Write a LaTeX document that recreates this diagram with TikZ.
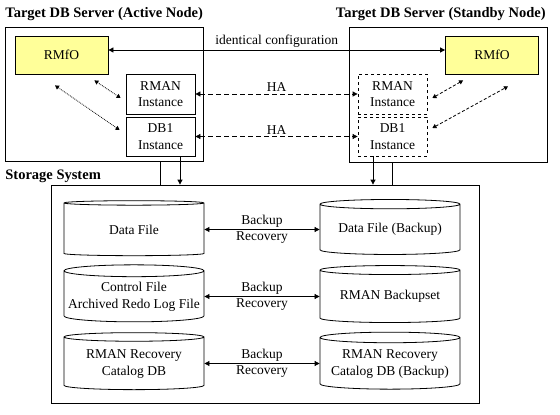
\documentclass[tikz,border=0pt]{standalone}
\usepackage{fontspec}
\setmainfont{Liberation Serif}
\usetikzlibrary{shapes.geometric,arrows.meta}

\definecolor{rmfoyellow}{HTML}{FFFF99}

\tikzset{
  box/.style={draw,line width=0.8pt,inner sep=0pt},
  inst/.style={box,minimum width=69pt,minimum height=39pt,align=center,font=\fontsize{13.5}{16.5}\selectfont},
  rmfo/.style={box,fill=rmfoyellow,minimum width=93pt,minimum height=38pt,font=\fontsize{13.5}{16}\selectfont},
  disk/.style={cylinder,shape border rotate=90,draw,line width=0.8pt,aspect=0.09,
    minimum width=140pt,minimum height=55pt,inner sep=0pt,align=center,font=\fontsize{13.5}{17}\selectfont},
  title/.style={font=\bfseries\fontsize{14.5}{16}\selectfont,inner sep=0pt},
  lbl/.style={font=\fontsize{13.5}{16}\selectfont,inner sep=2pt},
  ha/.style={dash pattern=on 5pt off 3pt},
  tip/.style={-{Triangle[length=5pt,width=5pt]}},
  both/.style={{Triangle[length=5pt,width=5pt]}-{Triangle[length=5pt,width=5pt]}},
  small both/.style={{Triangle[length=4pt,width=4.5pt]}-{Triangle[length=4pt,width=4.5pt]}}
}

\begin{document}
\begin{tikzpicture}[x=1pt,y=-1pt,line width=0.8pt]
  \useasboundingbox (0,0) rectangle (560,415);

  % servers
  \node[box,minimum width=198pt,minimum height=134pt] (srvA) at (104,94) {};
  \node[box,minimum width=198pt,minimum height=135pt] (srvS) at (448,94.5) {};
  \node[title,anchor=south west] (ttlA) at (5,21) {Target DB Server (Active Node)};
  \node[title,anchor=south east] (ttlS) at (546,21) {Target DB Server (Standby Node)};

  \node[rmfo] (rmA) at (61.5,55) {RMfO};
  \node[rmfo] (rmS) at (492,55) {RMfO};
  \node[inst,minimum height=40pt] (rmnA) at (160.5,94) {RMAN\\Instance};
  \node[inst] (dbA) at (160.5,136.5) {DB1\\Instance};
  \node[inst,minimum height=40pt,dashed] (rmnS) at (392.5,94) {RMAN\\Instance};
  \node[inst,dashed] (dbS) at (392.5,136.5) {DB1\\Instance};

  % storage
  \node[box,minimum width=428pt,minimum height=218pt] (stor) at (265,294) {};
  \node[title,anchor=south west] (ttlD) at (5,183) {Storage System};

  \node[disk] (dfA) at (134,229.5) {Data File};
  \node[disk] (dfB) at (390,229.5) {Data File (Backup)};
  \node[disk,minimum height=57pt] (cfA) at (134,296.5) {Control File\\Archived Redo Log File};
  \node[disk,minimum height=57pt] (cfB) at (390,296.5) {RMAN Backupset};
  \node[disk,minimum height=57pt] (rcA) at (134,363.5) {RMAN Recovery\\Catalog DB};
  \node[disk,minimum height=57pt] (rcB) at (390,363.5) {RMAN Recovery\\Catalog DB (Backup)};

  % connectors
  \draw[both] ([yshift=5pt]rmA.east) -- node[lbl,above] {identical configuration} ([yshift=5pt]rmS.west);
  \draw[both,ha] (rmnA.east) -- node[lbl,above] {HA} (rmnS.west);
  \draw[both,ha] (dbA.east) -- node[lbl,above] {HA} (dbS.west);

  \draw[small both,densely dotted] ([xshift=-14pt,yshift=-6pt]rmA.south east) -- ([xshift=-5pt,yshift=-4pt]rmnA.west);
  \draw[small both,densely dotted] ([xshift=-6.5pt,yshift=-11pt]rmA.south) -- ([xshift=-6pt,yshift=6.5pt]dbA.west);
  \draw[small both,densely dashed] ([xshift=5pt,yshift=-4pt]rmnS.east) -- ([xshift=18pt,yshift=-6pt]rmS.south west);
  \draw[small both,densely dashed] ([xshift=5pt,yshift=8.5pt]dbS.east) -- ([xshift=16pt,yshift=-12pt]rmS.south);

  \draw (dbA.south |- srvA.south) -- (dbA.south |- stor.north);
  \draw[tip] ([xshift=19.5pt]dbA.south) -- ([xshift=19.5pt]dbA.south |- stor.north);
  \draw (dbS.south |- srvS.south) -- (dbS.south |- stor.north);
  \draw[tip] ([xshift=-19.5pt]dbS.south) -- ([xshift=-19.5pt]dbS.south |- stor.north);

  \foreach \a/\b in {dfA/dfB,cfA/cfB,rcA/rcB}
    \draw[both] (\a.east) -- node[lbl,above] {Backup} node[lbl,below] {Recovery} (\b.west);
\end{tikzpicture}
\end{document}
